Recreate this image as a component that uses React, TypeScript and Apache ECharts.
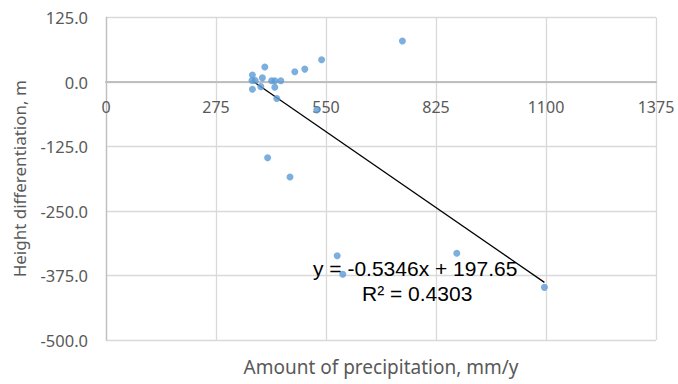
import React, { useEffect, useRef } from "react";
import * as echarts from "echarts";

const precipitation = [741, 539, 497, 472, 397, 366, 391, 373, 365, 414, 422, 437, 387, 366, 422, 427, 527, 404, 460, 578, 592, 877, 1096];
const heightDiff = [79.5, 43, 25, 20, 29, 13.5, 8, 3, 3, 2.5, 2.5, 2.5, -9, -14, -10, -32, -54, -146.7, -184, -336.6, -372.7, -332, -398];
const slope = -0.5346;
const intercept = 197.65;
const r2Text = "R² = 0.4303";
const eqText = "y = -0.5346x + 197.65";
const xTitle = "Amount of precipitation, mm/y";
const yTitle = "Height differentiation, m";

const GRID_TOP = 17.5;
const GRID_H = 322.5;
const Y_MIN = -500;
const Y_MAX = 125;

export default function App() {
  const ref = useRef<HTMLDivElement>(null);
  useEffect(() => {
    if (!ref.current) return;
    const chart = echarts.init(ref.current, undefined, { renderer: "svg" });
    const pts = precipitation.map((x, i) => [x, heightDiff[i]]);
    const xmin = Math.min(...precipitation);
    const xmax = Math.max(...precipitation);
    const trend = [
      [xmin, slope * xmin + intercept],
      [xmax, slope * xmax + intercept],
    ];
    // shift the x axis (line + labels) up to the y = 0 level, like Excel
    const zeroFromBottom = (0 - Y_MIN) / (Y_MAX - Y_MIN) * GRID_H;
    const font = "'Noto Sans', 'DejaVu Sans', sans-serif";
    chart.setOption({
      animation: false,
      backgroundColor: "#ffffff",
      grid: { left: 106, right: 22, top: GRID_TOP, bottom: 44, containLabel: false, outerBoundsMode: "none" },
      xAxis: {
        type: "value",
        min: 0,
        max: 1375,
        interval: 275,
        offset: -zeroFromBottom,
        name: xTitle,
        nameLocation: "middle",
        nameGap: 275,
        nameTextStyle: { color: "#595959", fontSize: 19, fontFamily: font },
        axisLine: { show: true, onZero: false, lineStyle: { color: "#bfbfbf", width: 2 } },
        axisTick: { show: false },
        axisLabel: { color: "#595959", fontSize: 16, fontFamily: font, margin: 17, formatter: (v: number) => String(v) },
        splitLine: { show: true, lineStyle: { color: "#d9d9d9", width: 1.3 } },
      },
      yAxis: {
        type: "value",
        min: Y_MIN,
        max: Y_MAX,
        interval: 125,
        name: yTitle,
        nameLocation: "middle",
        nameGap: 78,
        nameTextStyle: { color: "#595959", fontSize: 17, fontFamily: font },
        axisLine: { show: true, onZero: false, lineStyle: { color: "#bfbfbf", width: 1.3 } },
        axisTick: { show: false },
        axisLabel: {
          color: "#595959",
          fontSize: 16.5,
          fontFamily: font,
          margin: 18,
          formatter: (v: number) => v.toFixed(1),
        },
        splitLine: { show: true, lineStyle: { color: "#d9d9d9", width: 1.3 } },
      },
      series: [
        {
          type: "line",
          data: trend,
          symbol: "none",
          lineStyle: { color: "#000000", width: 1.3 },
          z: 3,
        },
        {
          type: "scatter",
          data: pts,
          symbolSize: 7,
          itemStyle: { color: "#5b9bd5" },
          z: 4,
        },
      ],
      graphic: [
        {
          type: "text",
          left: 313,
          top: 258,
          z: 10,
          style: { text: eqText, fill: "#000000", font: "21px 'Liberation Sans', Arial, sans-serif" },
        },
        {
          type: "text",
          left: 362,
          top: 283,
          z: 10,
          style: { text: r2Text, fill: "#000000", font: "21px 'Liberation Sans', Arial, sans-serif" },
        },
      ],
    });
    return () => chart.dispose();
  }, []);
  return <div ref={ref} style={{ position: "absolute", left: 0, top: 0, width: 678, height: 384 }} />;
}
